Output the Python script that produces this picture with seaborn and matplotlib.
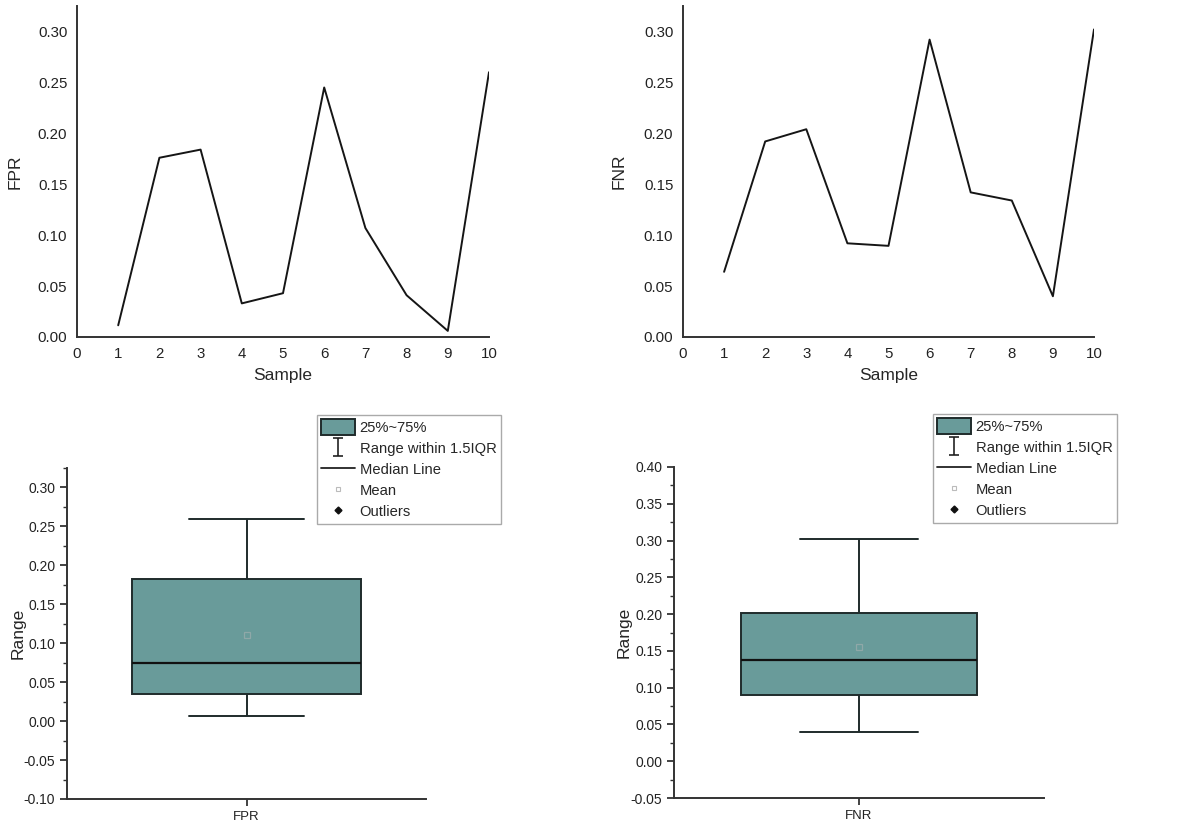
import matplotlib as mpl
mpl.use('Agg')
import numpy as np
import pandas as pd
import seaborn as sns
import matplotlib.pyplot as plt
from matplotlib.lines import Line2D
from matplotlib.patches import Patch
from matplotlib.path import Path
from matplotlib.ticker import MultipleLocator

sns.set_style("ticks")
plt.rcParams['font.family'] = ['Liberation Sans', 'DejaVu Sans']

# values
samples = [1, 2, 3, 4, 5, 6, 7, 8, 9, 10]
fpr = [0.0115, 0.176, 0.184, 0.033, 0.043, 0.245, 0.107, 0.041, 0.006, 0.260]
fnr = [0.064, 0.192, 0.204, 0.092, 0.0895, 0.292, 0.142, 0.134, 0.040, 0.302]
legend_labels = ["25%~75%", "Range within 1.5IQR", "Median Line", "Mean", "Outliers"]

box_color = "#699b9a"
edge_color = "#1f2b2b"
W, H = 1181, 827

fig = plt.figure(figsize=(W / 100, H / 100), dpi=100)

def px_axes(l, t, r, b):
    return fig.add_axes([l / W, 1 - b / H, (r - l) / W, (b - t) / H])

# I-shaped marker for the whisker entry
i_path = Path([(-0.5, -1), (0.5, -1), (0, -1), (0, 1), (-0.5, 1), (0.5, 1)],
              [Path.MOVETO, Path.LINETO, Path.MOVETO, Path.LINETO, Path.MOVETO, Path.LINETO])


def style_spines(ax):
    sns.despine(ax=ax)
    for s in ["left", "bottom"]:
        ax.spines[s].set_linewidth(1.4)
        ax.spines[s].set_color("#333333")


def line_panel(ax, y, ylabel, label_x):
    sns.lineplot(x=samples, y=y, ax=ax, color="#151515", linewidth=1.4)
    ax.set_xlim(0, 10)
    ax.set_ylim(0, 0.325)
    ax.set_xticks(range(0, 11))
    ax.set_yticks(np.arange(0, 0.31, 0.05))
    ax.yaxis.set_major_formatter(mpl.ticker.FormatStrFormatter('%.2f'))
    ax.tick_params(length=0, labelsize=10.8, pad=7, colors="#222222")
    ax.set_xlabel("Sample", fontsize=12.5, labelpad=5)
    ax.set_ylabel(ylabel, fontsize=12.5)
    ax.yaxis.set_label_coords(label_x, 0.5)
    style_spines(ax)


def box_panel(ax, y, name, ylim, legend_anchor):
    df = pd.DataFrame({"metric": [name] * len(y), "value": y})
    sns.boxplot(data=df, x="metric", y="value", ax=ax, width=0.64, color=box_color,
                saturation=1, linecolor=edge_color, linewidth=1.4,
                showmeans=True,
                meanprops=dict(marker="s", markerfacecolor="none",
                               markeredgecolor="#8fa8a8", markersize=4.5, markeredgewidth=0.9),
                medianprops=dict(color="#111111", linewidth=1.6))
    ax.set_xlim(-0.5, 0.5)
    ax.set_ylim(*ylim)
    ax.yaxis.set_major_locator(MultipleLocator(0.05))
    ax.yaxis.set_minor_locator(MultipleLocator(0.025))
    ax.yaxis.set_major_formatter(mpl.ticker.FormatStrFormatter('%.2f'))
    ax.tick_params(which="major", length=5, width=1.2, labelsize=10, colors="#222222")
    ax.tick_params(axis="x", labelsize=9.5)
    ax.tick_params(which="minor", length=3, width=1.0, colors="#333333")
    ax.set_xlabel("")
    ax.set_ylabel("Range", fontsize=12.5)
    ax.yaxis.set_label_coords(-0.114, 0.5)
    style_spines(ax)

    handles = [
        Patch(facecolor=box_color, edgecolor=edge_color, linewidth=1.4),
        Line2D([], [], ls="none", marker=i_path, markersize=13, markeredgecolor="#222222",
               markeredgewidth=1.2, markerfacecolor="none"),
        Line2D([], [], color="#222222", linewidth=1.3),
        Line2D([], [], ls="none", marker="s", markersize=3.5, markerfacecolor="none",
               markeredgecolor="#bbbbbb", markeredgewidth=0.8),
        Line2D([], [], ls="none", marker="D", markersize=3.5, color="#111111"),
    ]
    leg = ax.legend(handles, legend_labels, loc="upper left",
                    bbox_to_anchor=(legend_anchor[0] / W, 1 - legend_anchor[1] / H),
                    bbox_transform=fig.transFigure, borderaxespad=0, fontsize=10.6,
                    frameon=True, fancybox=False, edgecolor="#aaaaaa", framealpha=1,
                    labelspacing=0.37, handlelength=2.25, handleheight=1.22,
                    handletextpad=0.35, borderpad=0.3)
    leg.get_frame().set_linewidth(1.0)


ax1 = px_axes(77, 6, 489, 337)
line_panel(ax1, fpr, "FPR", -0.133)
ax2 = px_axes(683, 6, 1094, 337)
line_panel(ax2, fnr, "FNR", -0.136)

ax3 = px_axes(67, 468, 426, 799)
box_panel(ax3, fpr, "FPR", (-0.10, 0.325), (317, 415))
ax4 = px_axes(674, 467, 1044, 798)
box_panel(ax4, fnr, "FNR", (-0.05, 0.40), (933, 414))

fig.savefig("out.png", dpi=100)
